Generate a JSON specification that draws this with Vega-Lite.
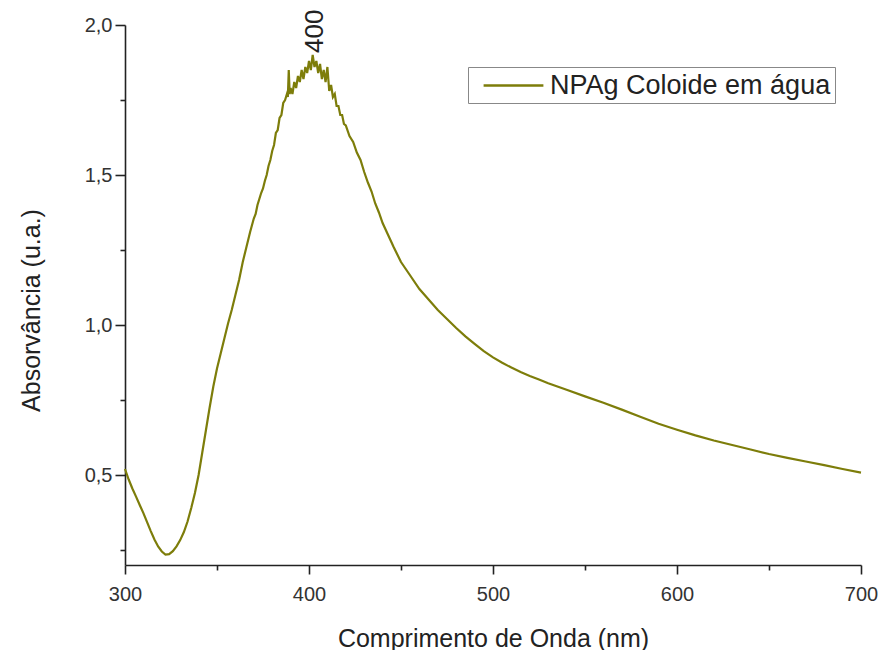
{
  "$schema": "https://vega.github.io/schema/vega-lite/v6.json",
  "width": 736,
  "height": 540,
  "autosize": "none",
  "padding": {"left": 125, "top": 25, "right": 21, "bottom": 85},
  "background": "white",
  "config": {
    "view": {"stroke": null},
    "font": "Liberation Sans"
  },
  "layer": [
    {
      "data": {
        "values": [
          {"wl": 300, "A": 0.52}, {"wl": 302, "A": 0.485}, {"wl": 304, "A": 0.455}, {"wl": 306, "A": 0.428},
          {"wl": 308, "A": 0.4}, {"wl": 310, "A": 0.373}, {"wl": 312, "A": 0.343}, {"wl": 314, "A": 0.313},
          {"wl": 316, "A": 0.285}, {"wl": 318, "A": 0.262}, {"wl": 320, "A": 0.245}, {"wl": 322, "A": 0.235},
          {"wl": 324, "A": 0.236}, {"wl": 326, "A": 0.246}, {"wl": 328, "A": 0.262}, {"wl": 330, "A": 0.283},
          {"wl": 332, "A": 0.31}, {"wl": 334, "A": 0.345}, {"wl": 336, "A": 0.39}, {"wl": 338, "A": 0.44},
          {"wl": 340, "A": 0.5}, {"wl": 342, "A": 0.575}, {"wl": 344, "A": 0.65}, {"wl": 346, "A": 0.725},
          {"wl": 348, "A": 0.795}, {"wl": 350, "A": 0.855}, {"wl": 352, "A": 0.905}, {"wl": 354, "A": 0.955},
          {"wl": 356, "A": 1.005}, {"wl": 358, "A": 1.05}, {"wl": 360, "A": 1.1}, {"wl": 362, "A": 1.15},
          {"wl": 364, "A": 1.21}, {"wl": 366, "A": 1.26}, {"wl": 368, "A": 1.31}, {"wl": 370, "A": 1.355},
          {"wl": 371, "A": 1.37}, {"wl": 372, "A": 1.4}, {"wl": 373, "A": 1.42}, {"wl": 374, "A": 1.44},
          {"wl": 375, "A": 1.455}, {"wl": 376, "A": 1.48}, {"wl": 377, "A": 1.5}, {"wl": 378, "A": 1.53},
          {"wl": 379, "A": 1.55}, {"wl": 380, "A": 1.58}, {"wl": 381, "A": 1.6}, {"wl": 382, "A": 1.64},
          {"wl": 383, "A": 1.65}, {"wl": 384, "A": 1.69}, {"wl": 385, "A": 1.7}, {"wl": 386, "A": 1.74},
          {"wl": 387, "A": 1.75}, {"wl": 388, "A": 1.77}, {"wl": 388.5, "A": 1.76}, {"wl": 389, "A": 1.85},
          {"wl": 389.5, "A": 1.77}, {"wl": 390, "A": 1.79}, {"wl": 391, "A": 1.77}, {"wl": 392, "A": 1.81},
          {"wl": 393, "A": 1.79}, {"wl": 394, "A": 1.83}, {"wl": 395, "A": 1.81}, {"wl": 396, "A": 1.85},
          {"wl": 397, "A": 1.82}, {"wl": 398, "A": 1.86}, {"wl": 399, "A": 1.84}, {"wl": 400, "A": 1.88},
          {"wl": 401, "A": 1.85}, {"wl": 402, "A": 1.9}, {"wl": 403, "A": 1.86}, {"wl": 404, "A": 1.88},
          {"wl": 405, "A": 1.84}, {"wl": 406, "A": 1.87}, {"wl": 407, "A": 1.82}, {"wl": 408, "A": 1.85},
          {"wl": 409, "A": 1.81}, {"wl": 410, "A": 1.86}, {"wl": 411, "A": 1.78}, {"wl": 412, "A": 1.8},
          {"wl": 413, "A": 1.76}, {"wl": 414, "A": 1.77}, {"wl": 415, "A": 1.73}, {"wl": 416, "A": 1.73},
          {"wl": 417, "A": 1.7}, {"wl": 418, "A": 1.7}, {"wl": 419, "A": 1.67}, {"wl": 420, "A": 1.665},
          {"wl": 422, "A": 1.63}, {"wl": 424, "A": 1.61}, {"wl": 426, "A": 1.575}, {"wl": 428, "A": 1.55},
          {"wl": 430, "A": 1.51}, {"wl": 432, "A": 1.475}, {"wl": 434, "A": 1.445}, {"wl": 436, "A": 1.405},
          {"wl": 438, "A": 1.375}, {"wl": 440, "A": 1.34}, {"wl": 443, "A": 1.3}, {"wl": 446, "A": 1.26},
          {"wl": 450, "A": 1.21}, {"wl": 455, "A": 1.165}, {"wl": 460, "A": 1.12}, {"wl": 465, "A": 1.085},
          {"wl": 470, "A": 1.05}, {"wl": 475, "A": 1.02}, {"wl": 480, "A": 0.99}, {"wl": 485, "A": 0.962},
          {"wl": 490, "A": 0.937}, {"wl": 495, "A": 0.913}, {"wl": 500, "A": 0.892}, {"wl": 505, "A": 0.874},
          {"wl": 510, "A": 0.858}, {"wl": 515, "A": 0.843}, {"wl": 520, "A": 0.83}, {"wl": 525, "A": 0.818},
          {"wl": 530, "A": 0.806}, {"wl": 540, "A": 0.784}, {"wl": 550, "A": 0.762}, {"wl": 560, "A": 0.741},
          {"wl": 570, "A": 0.718}, {"wl": 580, "A": 0.694}, {"wl": 590, "A": 0.671}, {"wl": 600, "A": 0.651},
          {"wl": 610, "A": 0.632}, {"wl": 620, "A": 0.615}, {"wl": 630, "A": 0.6}, {"wl": 640, "A": 0.585},
          {"wl": 650, "A": 0.57}, {"wl": 660, "A": 0.557}, {"wl": 670, "A": 0.545}, {"wl": 680, "A": 0.533},
          {"wl": 690, "A": 0.52}, {"wl": 700, "A": 0.508}
        ]
      },
      "mark": {"type": "line", "strokeWidth": 2.2, "interpolate": "linear"},
      "encoding": {
        "x": {
          "field": "wl", "type": "quantitative",
          "scale": {"domain": [300, 700], "nice": false, "zero": false},
          "axis": {
            "title": "Comprimento de Onda (nm)",
            "values": [300, 350, 400, 450, 500, 550, 600, 650, 700],
            "labelExpr": "datum.value % 100 === 0 ? datum.label : ''",
            "grid": false,
            "domainColor": "#222", "domainWidth": 1.6,
            "tickColor": "#222", "tickWidth": 1.6,
            "tickSize": {"condition": {"test": "datum.value % 100 === 0", "value": 9}, "value": 5},
            "labelFontSize": 20, "labelColor": "#333", "labelPadding": 10,
            "labelFlush": false, "labelOverlap": false, "labelBound": false,
            "titleFontSize": 25, "titleFontWeight": "normal", "titleColor": "#222", "titlePadding": 22
          }
        },
        "y": {
          "field": "A", "type": "quantitative",
          "scale": {"domain": [0.2, 2.0], "nice": false, "zero": false},
          "axis": {
            "title": "Absorvância (u.a.)",
            "values": [0.25, 0.5, 0.75, 1.0, 1.25, 1.5, 1.75, 2.0],
            "labelExpr": "round(datum.value * 100) % 50 === 0 ? replace(format(datum.value, '.1f'), '.', ',') : ''",
            "grid": false,
            "domainColor": "#222", "domainWidth": 1.6,
            "tickColor": "#222", "tickWidth": 1.6,
            "tickSize": {"condition": {"test": "round(datum.value * 100) % 50 === 0", "value": 10}, "value": 5},
            "labelFontSize": 20, "labelColor": "#333", "labelPadding": 3,
            "labelFlush": false, "labelOverlap": false, "labelBound": false,
            "titleFontSize": 25, "titleFontWeight": "normal", "titleColor": "#222", "titlePadding": 40,
            "titleY": 285
          }
        },
        "color": {
          "datum": "NPAg Coloide em água",
          "type": "nominal",
          "scale": {"domain": ["NPAg Coloide em água"], "range": ["#7d7d0a"]},
          "legend": {
            "orient": "none", "legendX": 343, "legendY": 42,
            "title": null, "symbolType": "M-2.3,0H2.3", "symbolSize": 676, "symbolStrokeWidth": 2.5,
            "labelFontSize": 27, "labelColor": "#222", "labelLimit": 500, "labelOffset": 22,
            "strokeColor": "#888", "fillColor": "white", "padding": 4, "symbolOffset": 27
          }
        }
      }
    },
    {
      "data": {"values": [{"wl": 400, "A": 1.89, "label": "400"}]},
      "mark": {"type": "text", "angle": 270, "align": "left", "baseline": "middle", "dx": 5, "dy": 6, "fontSize": 26, "color": "#222"},
      "encoding": {
        "x": {"field": "wl", "type": "quantitative"},
        "y": {"field": "A", "type": "quantitative"},
        "text": {"field": "label"}
      }
    }
  ]
}
